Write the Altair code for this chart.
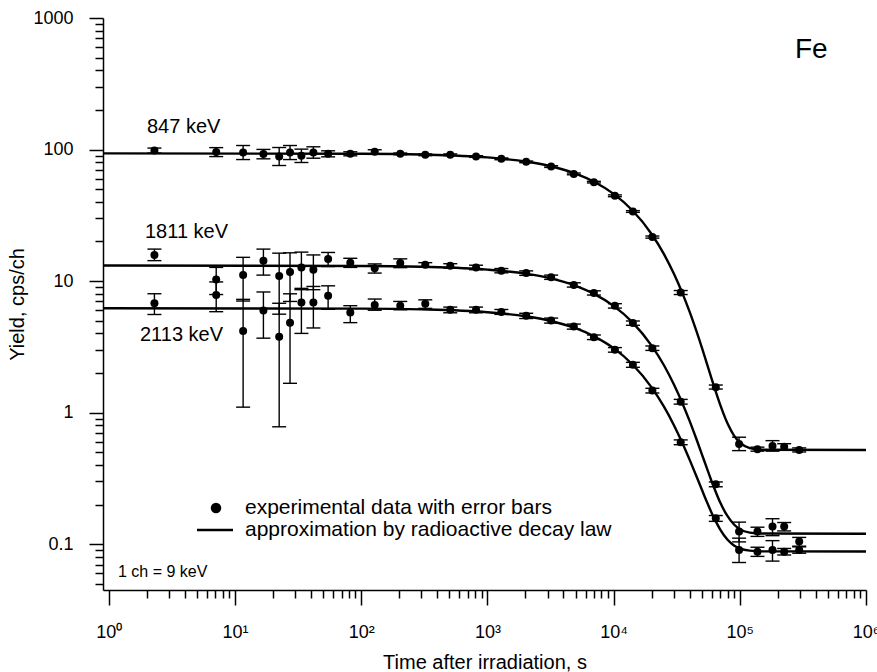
import altair as alt
import pandas as pd

FONT = "Liberation Sans"

# ---------------- data ----------------
series_names = ["847 keV", "1811 keV", "2113 keV"]

times = [2.3, 7.1, 11.6, 16.8, 22.4, 27.3, 33.6, 41.8, 54.7, 82, 128, 204, 322, 508, 813,
         1290, 2030, 3200, 4840, 6980, 10240, 14220, 20290, 34020, 64530, 98700, 138000,
         181600, 224700, 295600]

y847 = [98.2, 95.6, 94.9, 92.3, 88.5, 94.9, 89.6, 94.9, 92.8, 92.8, 96.1, 92.7, 91.2, 91.2, 88.5,
        85.0, 80.6, 74.2, 65.3, 56.5, 44.5, 33.8, 21.6, 8.18, 1.56, 0.578, 0.527, 0.558, 0.551, 0.520]
lo847 = [94.0, 88.4, 83.9, 85.0, 75.6, 83.9, 79.7, 85.9, 88.0, 89.6, 92.8, 91.3, 89.8, 89.8, 87.2,
         83.7, 79.4, 73.1, 64.3, 55.7, 43.8, 33.3, 21.2, 7.9, 1.51, 0.514, 0.509, 0.509, 0.52, 0.502]
hi847 = [102.6, 103.4, 107.3, 100.2, 103.6, 107.3, 100.7, 104.9, 97.8, 96.1, 99.6, 94.1, 92.6, 92.6, 89.8,
         86.3, 81.8, 75.3, 66.3, 57.3, 45.2, 34.3, 22.0, 8.47, 1.62, 0.65, 0.546, 0.612, 0.58, 0.539]

y1811 = [15.8, 10.3, 11.1, 14.3, 10.95, 11.7, 12.7, 12.2, 14.7, 13.8, 12.5, 13.7, 13.3, 13.05, 12.7,
         12.0, 11.5, 10.7, 9.35, 8.13, 6.48, 4.79, 3.09, 1.21, 0.285, 0.1245, 0.1245, 0.136, 0.136, 0.1045]
lo1811 = [14.3, 7.9, 7.05, 11.1, 5.6, 7.0, 8.8, 8.6, 12.9, 12.7, 11.5, 12.65, 12.8, 12.55, 12.2,
          11.55, 11.05, 10.3, 9.0, 7.83, 6.23, 4.61, 2.97, 1.16, 0.273, 0.104, 0.1145, 0.116, 0.126, 0.0965]
hi1811 = [17.5, 12.7, 15.15, 17.5, 16.3, 16.4, 16.6, 15.8, 16.5, 14.9, 13.5, 14.75, 13.8, 13.55, 13.2,
          12.45, 11.95, 11.1, 9.7, 8.43, 6.73, 4.97, 3.21, 1.26, 0.297, 0.147, 0.1345, 0.156, 0.146, 0.1125]

y2113 = [6.79, 7.85, 4.18, 5.97, 3.78, 4.83, 6.87, 6.87, 7.72, 5.76, 6.59, 6.48, 6.71, 6.04, 6.04,
         5.83, 5.44, 5.01, 4.51, 3.74, 3.0, 2.31, 1.47, 0.595, 0.157, 0.0903, 0.0877, 0.0903, 0.0877, 0.0903]
lo2113 = [5.57, 5.85, 1.1, 3.68, 0.78, 1.67, 4.0, 4.4, 6.1, 4.83, 6.0, 6.05, 6.2, 5.74, 5.74,
          5.58, 5.19, 4.79, 4.31, 3.59, 2.88, 2.21, 1.41, 0.57, 0.149, 0.0725, 0.0807, 0.0743, 0.0827, 0.0853]
hi2113 = [8.01, 9.85, 7.26, 8.26, 6.78, 8.0, 8.6, 9.1, 9.2, 6.5, 7.3, 7.0, 7.2, 6.34, 6.34,
          6.08, 5.69, 5.23, 4.71, 3.89, 3.12, 2.41, 1.53, 0.62, 0.165, 0.111, 0.0947, 0.1063, 0.0927, 0.0953]

# approximation curves
fit_t = [0.9, 100, 300, 1000, 2000, 3000, 5000, 7000, 10000, 14000, 20000, 25000, 30000, 35000,
         40000, 45000, 50000, 55000, 60000, 65000, 70000, 80000, 90000, 100000, 120000, 150000, 1000000]
fit847 = [93.5, 92.9, 91.6, 87.1, 81.1, 75.6, 65.6, 56.9, 46.0, 34.7, 22.8, 16.1, 11.4, 8.13,
          5.85, 4.25, 3.13, 2.34, 1.79, 1.41, 1.143, 0.825, 0.669, 0.593, 0.537, 0.522, 0.52]
fit1811 = [13.12, 13.03, 12.84, 12.22, 11.39, 10.61, 9.21, 8.00, 6.48, 4.90, 3.23, 2.30, 1.64, 1.184,
           0.865, 0.641, 0.484, 0.375, 0.298, 0.245, 0.207, 0.163, 0.141, 0.130, 0.1224, 0.1203, 0.12]
fit2113 = [6.22, 6.17, 6.09, 5.80, 5.40, 5.04, 4.38, 3.80, 3.09, 2.34, 1.555, 1.114, 0.806, 0.590,
           0.439, 0.334, 0.260, 0.208, 0.172, 0.147, 0.129, 0.108, 0.0978, 0.0928, 0.0892, 0.0881, 0.088]

x_decades = [1, 10, 100, 1000, 10000, 100000]
y_decades = [0.01, 0.1, 1, 10, 100]
x_sup = ["⁰", "¹", "²", "³", "⁴", "⁵", "⁶"]

legend_texts = ["experimental data with error bars", "approximation by radioactive decay law"]
note_text = "1 ch = 9 keV"
element_text = "Fe"
x_title = "Time after irradiation, s"
y_title = "Yield, cps/ch"

# ---------------- tables ----------------
rows = []
for name, ys, los, his in zip(series_names, [y847, y1811, y2113], [lo847, lo1811, lo2113],
                              [hi847, hi1811, hi2113]):
    for t, v, lo, hi in zip(times, ys, los, his):
        rows.append({"series": name, "t": t, "y": v, "lo": lo, "hi": hi})
pts = pd.DataFrame(rows)

frows = []
for name, ys in zip(series_names, [fit847, fit1811, fit2113]):
    for t, v in zip(fit_t, ys):
        frows.append({"series": name, "t": t, "y": v})
fit = pd.DataFrame(frows)

x_ticks = [m * d for d in x_decades for m in range(1, 10)] + [1000000]
y_ticks = [round(m * d, 4) for d in y_decades for m in range(1, 10) if m * d >= 0.05] + [1000]

is_major = "abs(log(datum.value)/LN10 - round(log(datum.value)/LN10)) < 0.001"
sup_js = "[" + ",".join("'" + s + "'" for s in x_sup) + "]"

xscale = alt.Scale(type="log", domain=[0.9, 1000000], nice=False)
yscale = alt.Scale(type="log", domain=[0.0448, 1000], nice=False)

xaxis = alt.Axis(
    values=x_ticks,
    labelExpr=f"{is_major} ? '10' + {sup_js}[round(log(datum.value)/LN10)] : ''",
    tickSize={"condition": {"test": is_major, "value": 15}, "value": 8},
    tickColor="black", tickWidth=1.5, domainColor="black", domainWidth=1.5,
    labelFont=FONT, labelFontSize=18, labelColor="black", labelPadding=18,
    labelFlush=False, labelOverlap=False, grid=False,
    title=x_title, titleFont=FONT, titleFontSize=20, titleFontWeight="normal",
    titleColor="black", titlePadding=11,
)
yaxis = alt.Axis(
    values=y_ticks,
    labelExpr=f"{is_major} ? '' + datum.value : ''",
    tickSize={"condition": {"test": is_major, "value": 14}, "value": 8},
    tickColor="black", tickWidth=1.5, domainColor="black", domainWidth=1.5,
    labelFont=FONT, labelFontSize=18, labelColor="black", labelPadding=16,
    labelFlush=False, labelOverlap=False, grid=False,
    title=y_title, titleFont=FONT, titleFontSize=20, titleFontWeight="normal",
    titleColor="black", titlePadding=5,
)

X = alt.X("t:Q", scale=xscale, axis=xaxis)

lines = alt.Chart(fit).mark_line(color="black", strokeWidth=2.4, interpolate="monotone").encode(
    x=X, y=alt.Y("y:Q", scale=yscale, axis=yaxis), detail="series:N")

bars = alt.Chart(pts).mark_rule(color="black", strokeWidth=1.4).encode(
    x=X, y=alt.Y("lo:Q", scale=yscale, axis=yaxis), y2="hi:Q")
cap_lo = alt.Chart(pts).mark_tick(color="black", orient="horizontal", size=14, thickness=1.4,
                                  opacity=1).encode(x=X, y=alt.Y("lo:Q", scale=yscale, axis=yaxis))
cap_hi = alt.Chart(pts).mark_tick(color="black", orient="horizontal", size=14, thickness=1.4,
                                  opacity=1).encode(x=X, y=alt.Y("hi:Q", scale=yscale, axis=yaxis))
dots = alt.Chart(pts).mark_circle(color="black", size=64, opacity=1).encode(
    x=X, y=alt.Y("y:Q", scale=yscale, axis=yaxis))

one = pd.DataFrame({"k": [0]})


def label(text, x, y, size, baseline="middle"):
    return alt.Chart(one).mark_text(
        text=text, font=FONT, fontSize=size, color="black", align="left", baseline=baseline
    ).encode(x=alt.value(x), y=alt.value(y))


# plot origin is at (103, 18) in the page
texts = [
    label(series_names[0], 44, 109, 20),
    label(series_names[1], 42, 214, 20),
    label(series_names[2], 37, 317, 20),
    label(element_text, 692, 40, 28, "alphabetic"),
    label(legend_texts[0], 142, 490, 21),
    label(legend_texts[1], 142, 512, 21),
    label(note_text, 15, 554, 16),
]
leg_dot = alt.Chart(one).mark_circle(color="black", size=110, opacity=1).encode(
    x=alt.value(113), y=alt.value(490))
leg_line = alt.Chart(one).mark_rule(color="black", strokeWidth=2.4).encode(
    x=alt.value(94), x2=alt.value(130), y=alt.value(512))

chart = alt.layer(lines, bars, cap_lo, cap_hi, dots, leg_dot, leg_line, *texts).properties(
    width=763, height=572,
    padding={"left": 103, "top": 18, "right": 11, "bottom": 82},
    autosize=alt.AutoSizeParams(type="none"),
    background="white",
).configure_view(stroke=None)

chart.save("out.html", embed_options={"renderer": "svg", "actions": False})
